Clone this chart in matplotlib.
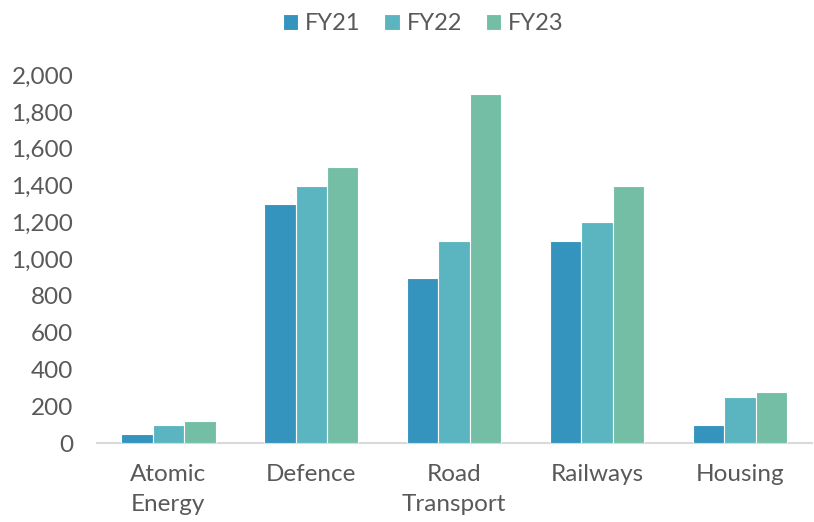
import numpy as np
import matplotlib
import matplotlib.pyplot as plt
from matplotlib.ticker import FuncFormatter

matplotlib.rcParams.update({'font.family': ['Lato', 'DejaVu Sans'],
                            'text.color': '#595959',
                            'xtick.color': '#595959',
                            'ytick.color': '#595959'})

# Spending by ministry
categories = ['Atomic\nEnergy', 'Defence', 'Road\nTransport', 'Railways', 'Housing']
years = ['FY21', 'FY22', 'FY23']
fy21 = [50, 1300, 900, 1100, 100]
fy22 = [100, 1400, 1100, 1200, 250]
fy23 = [120, 1500, 1900, 1400, 280]
colors = ['#3594BD', '#5AB5C1', '#75BEA6']

fig = plt.figure(figsize=(8.14, 5.22), dpi=100)
ax = fig.add_axes([0.119, 0.151, 0.878, 0.705])

x = np.arange(len(categories))
w = 0.22
for i, (vals, lab) in enumerate(zip([fy21, fy22, fy23], years)):
    ax.bar(x + (i - 1) * w, vals, w, color=colors[i], label=lab,
           edgecolor='white', linewidth=0.8, zorder=3)

ax.set_xlim(-0.5, len(categories) - 0.5)
ax.set_ylim(0, 2000)
ax.set_yticks(range(0, 2001, 200))
ax.yaxis.set_major_formatter(FuncFormatter(lambda v, p: f'{int(v):,}'))
ax.set_xticks(x)
ax.set_xticklabels(categories, fontsize=17.5, linespacing=1.55)
ax.tick_params(axis='y', labelsize=17.5, length=0, pad=17)
ax.tick_params(axis='x', length=0, pad=15)

for s in ['top', 'right', 'left']:
    ax.spines[s].set_visible(False)
ax.spines['bottom'].set_color('#D9D9D9')
ax.spines['bottom'].set_linewidth(1.5)

fig.legend(loc='upper center', bbox_to_anchor=(0.52, 1.015), ncol=3, frameon=False,
           fontsize=17, handlelength=0.65, handleheight=0.65, handletextpad=0.3,
           columnspacing=1.0)

plt.savefig('out.png', dpi=100)
